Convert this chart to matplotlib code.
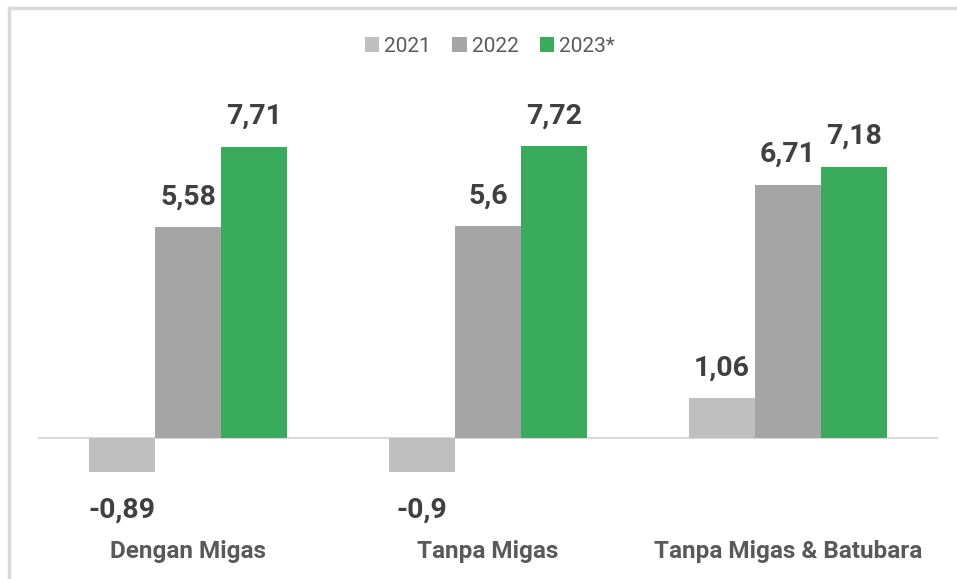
import matplotlib.pyplot as plt
import numpy as np
from matplotlib.lines import Line2D
from matplotlib.patches import Patch

# data
categories = ["Dengan Migas", "Tanpa Migas", "Tanpa Migas & Batubara"]
series = ["2021", "2022", "2023*"]
values_2021 = [-0.89, -0.9, 1.06]
values_2022 = [5.58, 5.6, 6.71]
values_2023 = [7.71, 7.72, 7.18]
labels_2021 = ["-0,89", "-0,9", "1,06"]
labels_2022 = ["5,58", "5,6", "6,71"]
labels_2023 = ["7,71", "7,72", "7,18"]

colors = ["#BFBFBF", "#A5A5A5", "#3AAB5D"]
plt.rcParams["font.family"] = ["Roboto", "DejaVu Sans"]

fig = plt.figure(figsize=(9.57, 5.79), dpi=100)
ax = fig.add_axes([0.0397, 0.087, 0.9404, 0.7437])

x = np.arange(len(categories))
w = 0.221
all_vals = [values_2021, values_2022, values_2023]
all_labels = [labels_2021, labels_2022, labels_2023]

for i, (vals, labs) in enumerate(zip(all_vals, all_labels)):
    bars = ax.bar(x + (i - 1) * w, vals, width=w, color=colors[i], zorder=2)
    for b, v, lab in zip(bars, vals, labs):
        cx = b.get_x() + b.get_width() / 2
        if v >= 0:
            ax.annotate(lab, (cx, v), xytext=(0, 12), textcoords="offset points",
                        ha="center", va="bottom", fontsize=20.5, fontweight="bold",
                        color="#404040")
        else:
            ax.annotate(lab, (cx, v), xytext=(0, -18), textcoords="offset points",
                        ha="center", va="top", fontsize=20.5, fontweight="bold",
                        color="#404040")

ax.axhline(0, color="#D9D9D9", lw=1.5, zorder=1)
ax.set_xlim(-0.5, 2.5)
ax.set_ylim(-2.4, 9)
ax.set_xticks(x)
ax.set_xticklabels(categories, fontsize=17.5, fontweight="bold", color="#595959")
ax.tick_params(axis="x", length=0, pad=8)
ax.set_yticks([])
for s in ax.spines.values():
    s.set_visible(False)

handles = [Patch(facecolor=c, edgecolor="none") for c in colors]
fig.legend(handles, series, loc="center", bbox_to_anchor=(490 / 957, 1 - 46 / 579),
           ncol=3, frameon=False, fontsize=15, labelcolor="#595959",
           handlelength=0.7, handleheight=0.7, handletextpad=0.25,
           columnspacing=1.0)

# light frame on left and top edge
fig.add_artist(Line2D([9 / 957, 9 / 957], [0, 1 - 8 / 579], color="#D9D9D9", lw=2.5,
                      transform=fig.transFigure))
fig.add_artist(Line2D([9 / 957, 1], [1 - 8 / 579, 1 - 8 / 579], color="#D9D9D9", lw=2.5,
                      transform=fig.transFigure))

fig.savefig("out.png", dpi=100)
